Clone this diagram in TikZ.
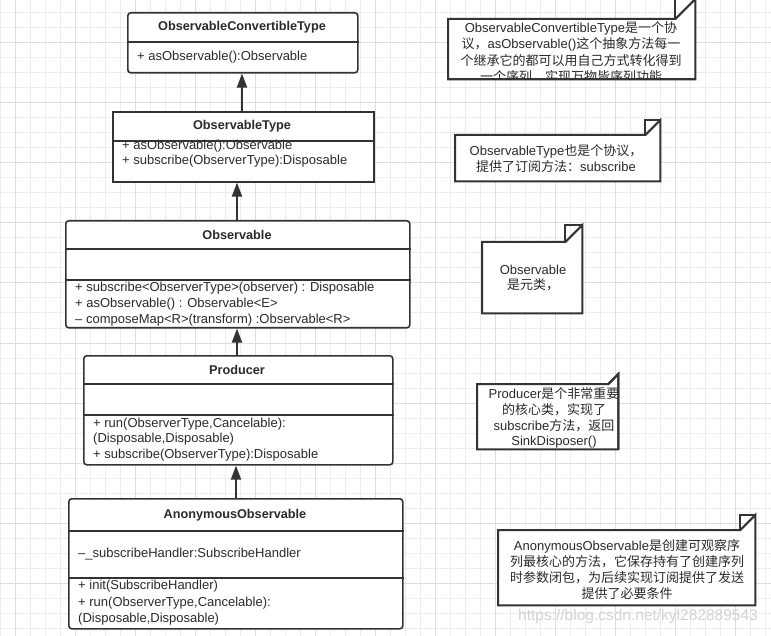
\documentclass[tikz,border=0pt]{standalone}
\usepackage{fontspec}
\setmainfont{Liberation Sans}
\newfontfamily\cjk{Noto Sans CJK SC}
\usetikzlibrary{arrows.meta}
\definecolor{gridminor}{HTML}{EDEDED}
\definecolor{gridmajor}{HTML}{DDDDDD}
\definecolor{ink}{HTML}{333333}
\definecolor{txt}{HTML}{2A2A2A}
\definecolor{wm}{HTML}{D3D3D3}
\tikzset{
  umlbox/.style={draw=ink, fill=white, line width=1.6pt, rounded corners=3pt, anchor=north west, inner sep=0pt},
  divider/.style={draw=ink, line width=1.6pt},
  ttl/.style={font=\fontsize{12.7}{15}\selectfont\bfseries, text=txt, inner sep=0pt},
  mem/.style={font=\fontsize{13}{15}\selectfont, text=txt, anchor=west, inner sep=0pt},
  ntxt/.style={font=\fontsize{13}{16}\selectfont, text=txt, inner sep=0pt},
  conn/.style={draw=ink, line width=2pt, -{Triangle[length=14pt,width=10pt]}},
  notearea/.style={anchor=north west, inner sep=0pt},
  noteline/.style={draw=ink, line width=2pt, fill=white},
}
\begin{document}
\begin{tikzpicture}[x=1pt,y=-1pt]
\useasboundingbox (0,0) rectangle (771,636);
\fill[white] (0,0) rectangle (771,636);
% grid
\foreach \x in {0,15,...,765} {\draw[gridminor, line width=1pt] (\x,0) -- (\x,636);}
\foreach \y in {13,28,...,628} {\draw[gridminor, line width=1pt] (0,\y) -- (771,\y);}
\foreach \x in {15,75,...,735} {\draw[gridmajor, line width=1pt] (\x,0) -- (\x,636);}
\foreach \y in {43,103,...,583} {\draw[gridmajor, line width=1pt] (0,\y) -- (771,\y);}

% ---- ObservableConvertibleType
\node[umlbox, minimum width=230pt, minimum height=60pt] (oct) at (127,12) {};
\draw[divider] (oct.west |- 0,42) -- (oct.east |- 0,42);
\node[ttl] (octT) at (242,27) {ObservableConvertibleType};
\node[mem] (octM) at (137,57) {+ asObservable():Observable};

% ---- ObservableType
\node[umlbox, rounded corners=0pt, minimum width=261pt, minimum height=70pt] (ot) at (112,111) {};
\node[ttl] (otT) at (242,126) {ObservableType};
\node[mem] (otM1) at (122,146) {+ asObservable():Observable};
\node[mem] (otM2) at (122,161) {+ subscribe(ObserverType):Disposable};
\draw[divider] (ot.west |- 0,141) -- (ot.east |- 0,141);

% ---- Observable
\node[umlbox, minimum width=344pt, minimum height=107pt] (obs) at (65,220) {};
\draw[divider] (obs.west |- 0,249) -- (obs.east |- 0,249);
\draw[divider] (obs.west |- 0,280) -- (obs.east |- 0,280);
\node[ttl] (obsT) at (237,235) {Observable};
\node[mem] (obsM1) at (75,288) {+ subscribe<ObserverType>(observer) : Disposable};
\node[mem] (obsM2) at (75,304) {+ asObservable() : Observable<E>};
\node[mem] (obsM3) at (75,320) {– composeMap<R>(transform) :Observable<R>};

% ---- Producer
\node[umlbox, minimum width=309pt, minimum height=109pt] (prod) at (83,355) {};
\draw[divider] (prod.west |- 0,384) -- (prod.east |- 0,384);
\draw[divider] (prod.west |- 0,415) -- (prod.east |- 0,415);
\node[ttl] (prodT) at (237,370) {Producer};
\node[mem] (prodM1) at (93,424) {+ run(ObserverType,Cancelable):};
\node[mem] (prodM2) at (93,439) {(Disposable,Disposable)};
\node[mem] (prodM3) at (93,455) {+ subscribe(ObserverType):Disposable};

% ---- AnonymousObservable
\node[umlbox, minimum width=334pt, minimum height=130pt] (anon) at (68,498) {};
\draw[divider] (anon.west |- 0,531) -- (anon.east |- 0,531);
\draw[divider] (anon.west |- 0,578) -- (anon.east |- 0,578);
\node[ttl] (anonT) at (235,515) {AnonymousObservable};
\node[mem] (anonA) at (78,554) {–\_subscribeHandler:SubscribeHandler};
\node[mem] (anonM1) at (78,586) {+ init(SubscribeHandler)};
\node[mem] (anonM2) at (78,603) {+ run(ObserverType,Cancelable):};
\node[mem] (anonM3) at (78,619) {(Disposable,Disposable)};

% ---- connectors
\draw[conn] (ot.north -| 242,0) -- (oct.south -| 242,0);
\draw[conn] (obs.north -| 237,0) -- (ot.south -| 237,0);
\draw[conn] (prod.north -| 237,0) -- (obs.south -| 237,0);
\draw[conn] (anon.north -| 236,0) -- (prod.south -| 236,0);

% ---- notes
% n1
\node[notearea, minimum width=247pt, minimum height=60pt] (n1) at (448,19) {};
\draw[noteline] (n1.north west) -- ([xshift=-20pt]n1.north east) -- ([yshift=20pt]n1.north east) -- (n1.south east) -- (n1.south west) -- cycle;
\begin{scope}
\clip (n1.north west) -- ([xshift=-20pt]n1.north east) -- ([yshift=20pt]n1.north east) -- (n1.south east) -- (n1.south west) -- cycle;
\node[ntxt] (n1a) at (571,28) {ObservableConvertibleType{\cjk 是一个协}};
\node[ntxt] (n1b) at (571,44) {{\cjk 议，}asObservable(){\cjk 这个抽象方法每一}};
\node[ntxt] (n1c) at (571,61) {{\cjk 个继承它的都可以用自己方式转化得到}};
\node[ntxt] (n1d) at (571,77) {{\cjk 一个序列，实现万物皆序列功能}};
\end{scope}
\draw[noteline, fill=none] ([xshift=-20pt]n1.north east) -- ([xshift=-20pt,yshift=20pt]n1.north east) -- ([yshift=20pt]n1.north east);
\draw[ink, line width=2pt] (n1.south west) -- (n1.south east);

% n2
\node[notearea, minimum width=205pt, minimum height=46pt] (n2) at (455,135) {};
\draw[noteline] (n2.north west) -- ([xshift=-15pt]n2.north east) -- ([yshift=15pt]n2.north east) -- (n2.south east) -- (n2.south west) -- cycle;
\draw[noteline, fill=none] ([xshift=-15pt]n2.north east) -- ([xshift=-15pt,yshift=15pt]n2.north east) -- ([yshift=15pt]n2.north east);
\node[ntxt] (n2a) at (556,151) {ObservableType{\cjk 也是个协议，}};
\node[ntxt] (n2b) at (556,167) {{\cjk 提供了订阅方法：}subscribe};

% n3
\node[notearea, minimum width=100pt, minimum height=71pt] (n3) at (482,242) {};
\draw[noteline] (n3.north west) -- ([xshift=-17pt]n3.north east) -- ([yshift=17pt]n3.north east) -- (n3.south east) -- (n3.south west) -- cycle;
\draw[noteline, fill=none] ([xshift=-17pt]n3.north east) -- ([xshift=-17pt,yshift=17pt]n3.north east) -- ([yshift=17pt]n3.north east);
\node[ntxt] (n3a) at (533,270) {Observable};
\node[ntxt] (n3b) at (533,285) {{\cjk 是元类，}};

% n4
\node[notearea, minimum width=141pt, minimum height=65pt] (n4) at (477,384) {};
\draw[noteline] (n4.north west) -- ([xshift=-10pt]n4.north east) -- ([yshift=10pt]n4.north east) -- (n4.south east) -- (n4.south west) -- cycle;
\begin{scope}
\clip (n4.north west) rectangle (n4.south east);
\node[ntxt] (n4a) at (554,394) {Producer{\cjk 是个非常重要}};
\node[ntxt] (n4b) at (554,410) {{\cjk 的核心类，实现了}};
\node[ntxt] (n4c) at (554,426) {subscribe{\cjk 方法，返回}};
\node[ntxt] (n4d) at (554,442) {SinkDisposer()};
\end{scope}
\draw[noteline, fill=none] ([xshift=-10pt]n4.north east) -- ([yshift=10pt]n4.north east) -- (n4.south east);

% n5
\node[notearea, minimum width=257pt, minimum height=75pt] (n5) at (498,530) {};
\draw[noteline] (n5.north west) -- ([xshift=-15pt]n5.north east) -- ([yshift=15pt]n5.north east) -- (n5.south east) -- (n5.south west) -- cycle;
\draw[noteline, fill=none] ([xshift=-15pt]n5.north east) -- ([xshift=-15pt,yshift=15pt]n5.north east) -- ([yshift=15pt]n5.north east);
\node[ntxt] (n5a) at (627,546) {AnonymousObservable{\cjk 是创建可观察序}};
\node[ntxt] (n5b) at (627,562) {{\cjk 列最核心的方法，它保存持有了创建序列}};
\node[ntxt] (n5c) at (627,578) {{\cjk 时参数闭包，为后续实现订阅提供了发送}};
\node[ntxt] (n5d) at (627,594) {{\cjk 提供了必要条件}};

% watermark
\node[font=\fontsize{15.5}{17}\selectfont, text=wm, inner sep=0pt, anchor=west] (wmk) at (518,616) {https://blog.csdn.net/kyl282889543};
\end{tikzpicture}
\end{document}
